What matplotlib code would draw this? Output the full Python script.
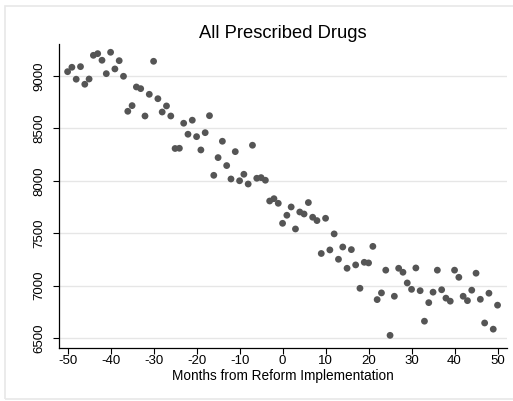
import matplotlib
matplotlib.use('Agg')
import matplotlib.pyplot as plt
from matplotlib.patches import Rectangle

plt.rcParams['font.family'] = ['Liberation Sans', 'DejaVu Sans']
plt.rcParams['axes.unicode_minus'] = False

months = list(range(-50, 51))
drugs = [9041, 9083, 8969, 9089, 8921, 8971, 9197, 9213, 9150, 9022,
         9226, 9067, 9146, 8997, 8663, 8717, 8895, 8879, 8618, 8825,
         9140, 8783, 8656, 8714, 8618, 8308, 8310, 8549, 8444, 8578,
         8421, 8294, 8459, 8621, 8052, 8221, 8377, 8145, 8017, 8278,
         8000, 8062, 7969, 8339, 8024, 8030, 8005, 7807, 7829, 7785,
         7594, 7671, 7750, 7540, 7702, 7683, 7792, 7652, 7620, 7306,
         7642, 7340, 7493, 7251, 7368, 7165, 7343, 7197, 6974, 7222,
         7216, 7374, 6866, 6930, 7147, 6525, 6898, 7165, 7127, 7025,
         6964, 7168, 6951, 6660, 6837, 6937, 7147, 6960, 6880, 6851,
         7147, 7079, 6898, 6856, 6956, 7118, 6869, 6643, 6927, 6584,
         6813]
xticks = list(range(-50, 51, 10))
yticks = list(range(6500, 9001, 500))

W, H = 513, 401
fig = plt.figure(figsize=(W / 100, H / 100), dpi=100)
fig.patch.set_facecolor('white')
fig.patches.append(Rectangle((5 / W, 2 / H), 1.0, 1 - 7.5 / H, transform=fig.transFigure,
                             fill=False, edgecolor='#e8e8e8', linewidth=1.2))

ax = fig.add_axes([59 / W, 1 - 347.5 / H, (507 - 59) / W, (347.5 - 44) / H])
ax.scatter(months, drugs, s=24, color='#555555', edgecolors='none', zorder=3)

ax.set_xlim(-52, 52.2)
ax.set_ylim(6409, 9305)
ax.set_xticks(xticks)
ax.set_yticks(yticks)
ax.set_yticklabels([str(v) for v in yticks], rotation=90, va='center')
ax.grid(axis='y', color='#e6e6e6', linewidth=1.0)
ax.set_axisbelow(True)

for side in ['top', 'right']:
    ax.spines[side].set_visible(False)
for side in ['left', 'bottom']:
    ax.spines[side].set_color('black')
    ax.spines[side].set_linewidth(0.9)

ax.tick_params(axis='both', labelsize=9.5, length=4, width=0.8, color='black')
ax.tick_params(axis='x', pad=1.5)
ax.tick_params(axis='y', pad=6)
ax.set_xlabel('Months from Reform Implementation', fontsize=9.8, labelpad=1.5)
ax.set_title('All Prescribed Drugs', fontsize=13.2, pad=4)

fig.savefig('out.png', dpi=100, facecolor='white')
